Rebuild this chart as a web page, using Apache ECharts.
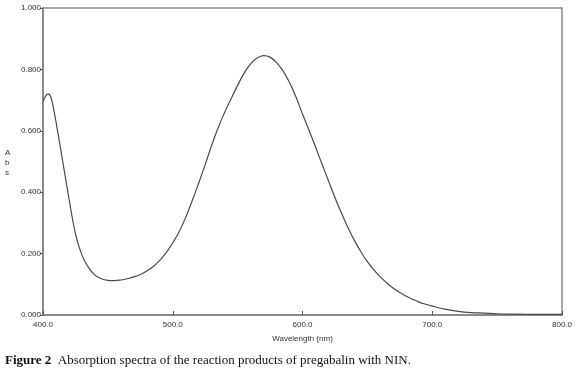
<!DOCTYPE html>
<html>
<head>
<meta charset="utf-8">
<script src="https://cdn.jsdelivr.net/npm/echarts@6/dist/echarts.min.js"></script>
<style>
  html, body { margin: 0; padding: 0; background: #fff; }
  #chart { width: 580px; height: 373px; }
</style>
</head>
<body>
<div id="chart"></div>
<script>
// wavelength (nm) and absorbance
var wavelengths = [400, 402, 404, 406, 408, 410, 415, 420, 425, 430, 435, 440, 445, 450, 455, 460, 465, 470, 475, 480, 485, 490, 495,
    500, 505, 510, 515, 520, 525, 530, 535, 540, 545, 550, 555, 560, 565, 570, 575, 580, 585, 590, 595,
    600, 605, 610, 615, 620, 625, 630, 635, 640, 645, 650, 655, 660, 665, 670, 675, 680, 685, 690, 695,
    700, 710, 720, 730, 740, 750, 760, 780, 800];
var absorbance = [0.695, 0.713, 0.720, 0.710, 0.675, 0.630, 0.505, 0.380, 0.265, 0.195, 0.155, 0.130, 0.118, 0.113, 0.112, 0.114, 0.118, 0.124, 0.132, 0.143, 0.158, 0.178, 0.203,
    0.235, 0.272, 0.318, 0.372, 0.430, 0.490, 0.553, 0.610, 0.660, 0.705, 0.748, 0.788, 0.818, 0.837, 0.845, 0.840, 0.822, 0.795, 0.757, 0.710,
    0.655, 0.602, 0.548, 0.492, 0.437, 0.383, 0.332, 0.285, 0.243, 0.206, 0.174, 0.147, 0.124, 0.104, 0.087, 0.073, 0.061, 0.051, 0.042, 0.035,
    0.029, 0.019, 0.012, 0.008, 0.006, 0.004, 0.003, 0.002, 0.002];

var captionBold = 'Figure 2';
var captionText = 'Absorption spectra of the reaction products of pregabalin with NIN.';

var chart = echarts.init(document.getElementById('chart'));
chart.setOption({
    animation: false,
    backgroundColor: '#fff',
    grid: {
        left: 43,
        right: 18,
        top: 8,
        bottom: 58,
        show: true,
        borderColor: '#8a8a8a',
        borderWidth: 1.5
    },
    xAxis: {
        type: 'value',
        min: 400,
        max: 800,
        interval: 100,
        name: 'Wavelength (nm)',
        nameLocation: 'middle',
        nameGap: 20,
        nameTextStyle: { fontFamily: 'Liberation Sans', fontSize: 8, color: '#333' },
        axisLine: { lineStyle: { color: '#8a8a8a', width: 2 } },
        axisTick: { inside: true, length: 4, lineStyle: { color: '#555' } },
        axisLabel: {
            fontFamily: 'Liberation Sans', fontSize: 8, color: '#333', margin: 6,
            formatter: function (v) { return v.toFixed(1); }
        },
        splitLine: { show: false }
    },
    yAxis: {
        type: 'value',
        min: 0,
        max: 1,
        interval: 0.2,
        axisLine: { show: true, lineStyle: { color: '#8a8a8a', width: 2 } },
        axisTick: { show: true, length: 3, lineStyle: { color: '#555' } },
        axisLabel: {
            fontFamily: 'Liberation Sans', fontSize: 8, color: '#333', margin: 2,
            formatter: function (v) { return v.toFixed(3); }
        },
        splitLine: { show: false }
    },
    series: [{
        type: 'line',
        data: wavelengths.map(function (w, i) { return [w, absorbance[i]]; }),
        smooth: 0.4,
        showSymbol: false,
        lineStyle: { color: '#4a4a4a', width: 1.2 }
    }],
    graphic: [{
        type: 'text',
        left: 5,
        top: 148,
        style: {
            text: 'A\nb\ns',
            fontFamily: 'Liberation Sans',
            fontSize: 8,
            lineHeight: 10,
            fill: '#333',
            align: 'center'
        }
    }, {
        type: 'text',
        left: 5,
        top: 354,
        style: {
            text: '{b|' + captionBold + '}  ' + captionText,
            fontFamily: 'Liberation Serif',
            fontSize: 13,
            fill: '#111',
            rich: {
                b: { fontFamily: 'Liberation Serif', fontSize: 13, fontWeight: 'bold', fill: '#111' }
            }
        }
    }]
});
window.addEventListener('resize', function () {
    chart.resize();
});
</script>
</body>
</html>
